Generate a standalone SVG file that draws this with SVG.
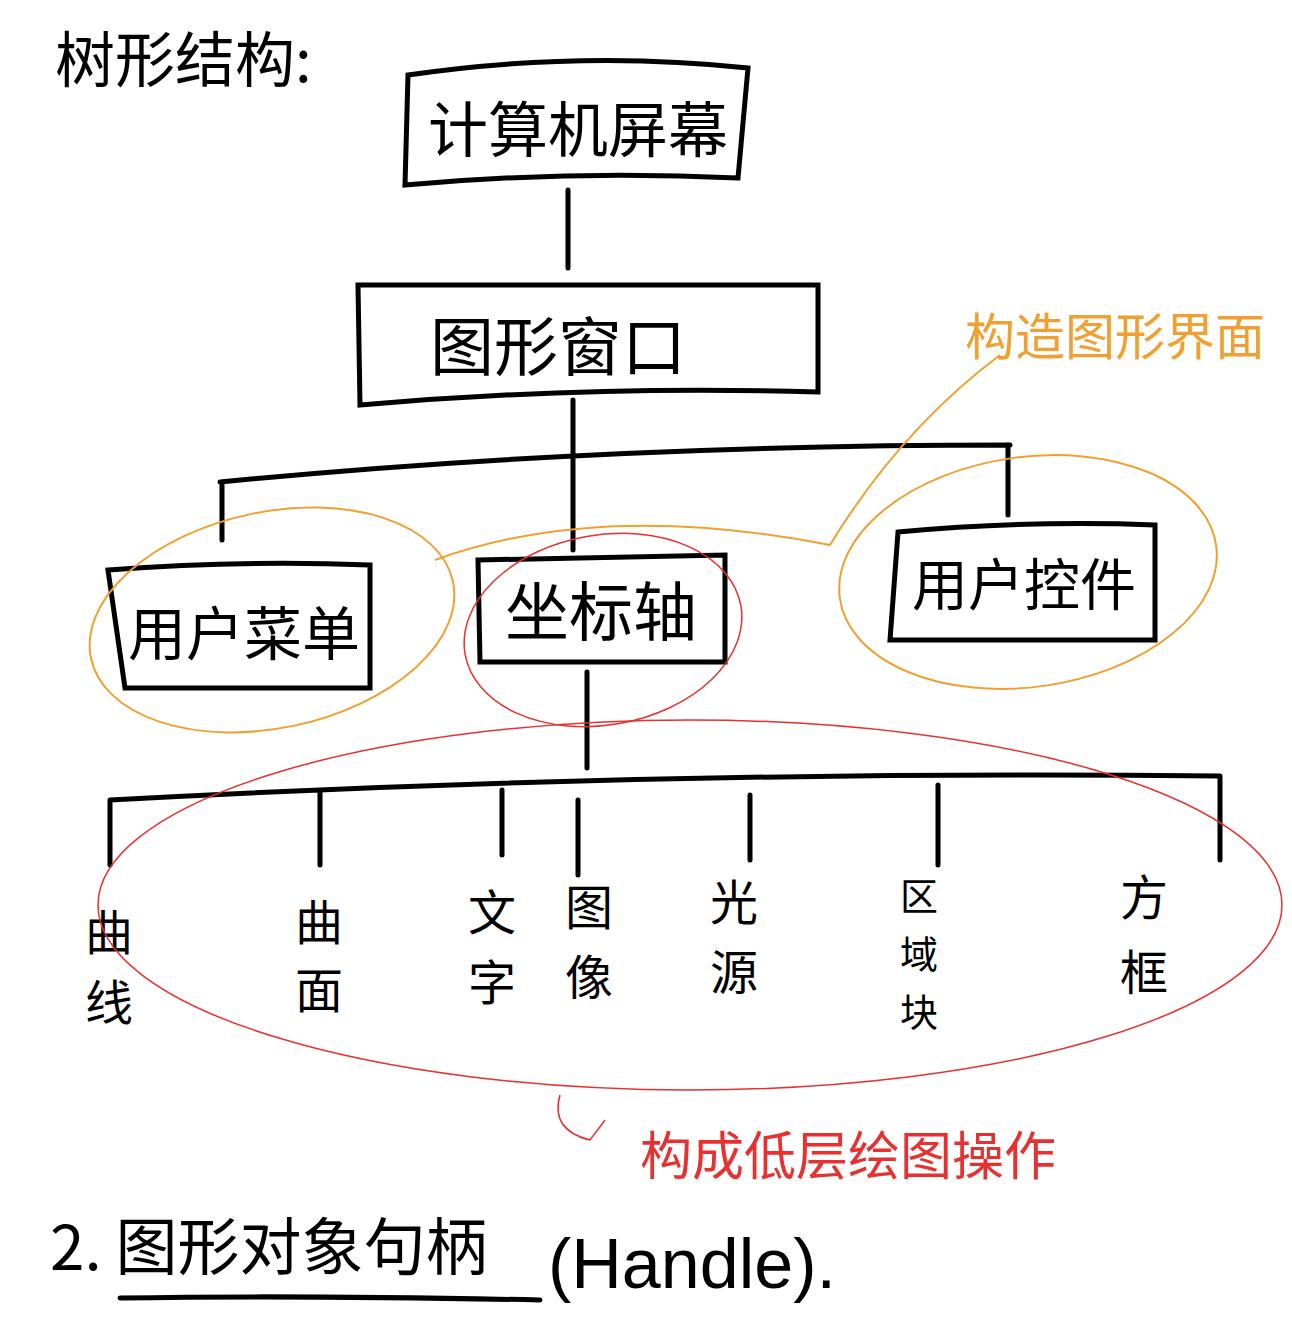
<svg xmlns="http://www.w3.org/2000/svg" width="1292" height="1344" viewBox="0 0 1292 1344">
<style>
.b{fill:none;stroke:#000;stroke-width:5;stroke-linecap:round}
.t{font-family:"Noto Sans CJK SC",sans-serif;fill:#000}
.o{fill:none;stroke:#f0a030;stroke-width:2}
.r{fill:none;stroke:#e83030;stroke-width:1.5}
</style>
<rect width="1292" height="1344" fill="#fff"/>
<text class="t" x="55" y="82" font-size="60">树形结构:</text>
<g id="connectors">
<path class="b" d="M568 190V268M573 400V550M220 482Q600 445 1010 445M222 482V540M1008 445V515M587 672V768M110 800Q660 770 1220 776M110 800V865M1220 776V860M320 790V865M502 790V855M578 800V875M750 795V860M938 785V865"/>
</g>
<g id="n1"><path class="b" d="M408 75Q580 50 748 68L738 178Q570 170 405 185Z"/><text class="t" x="428" y="152" font-size="60">计算机屏幕</text></g>
<g id="n2"><path class="b" d="M358 285H818V392Q590 385 360 405Z"/><text class="t" x="430" y="370" font-size="64">图形窗口</text></g>
<g id="n3"><path class="b" d="M108 570Q240 560 370 565V688H125Z"/><text class="t" x="128" y="655" font-size="58">用户菜单</text></g>
<g id="n4"><path class="b" d="M478 560L725 555V662H480Z"/><text class="t" x="505" y="635" font-size="64">坐标轴</text></g>
<g id="n5"><path class="b" d="M898 532Q1030 520 1155 525V640H890Z"/><text class="t" x="912" y="605" font-size="56">用户控件</text></g>
<g id="leaves" class="t" font-size="48">
<text x="85" y="950">曲</text><text x="85" y="1020">线</text>
<text x="295" y="940">曲</text><text x="295" y="1008">面</text>
<text x="468" y="930">文</text><text x="468" y="1000">字</text>
<text x="565" y="925">图</text><text x="565" y="995">像</text>
<text x="710" y="920">光</text><text x="710" y="990">源</text>
<text x="900" y="910" font-size="38">区</text><text x="900" y="968" font-size="38">域</text><text x="900" y="1026" font-size="38">块</text>
<text x="1120" y="915">方</text><text x="1120" y="990">框</text>
</g>
<g id="annotations">
<ellipse class="o" cx="272" cy="620" rx="185" ry="108" transform="rotate(-12 272 620)"/>
<ellipse class="o" cx="1028" cy="572" rx="190" ry="115" transform="rotate(-8 1028 572)"/>
<path class="o" d="M435 560Q600 500 830 545Q900 430 1000 355"/>
<text x="965" y="355" font-family="Noto Sans CJK SC,sans-serif" font-size="50" fill="#f0a030">构造图形界面</text>
<ellipse class="r" cx="603" cy="630" rx="140" ry="95" transform="rotate(-10 603 630)"/>
<ellipse class="r" cx="690" cy="905" rx="592" ry="185"/>
<path class="r" d="M560 1095Q550 1130 590 1140L605 1120"/>
<text x="640" y="1175" font-family="Noto Sans CJK SC,sans-serif" font-size="52" fill="#e83030">构成低层绘图操作</text>
</g>
<text class="t" x="50" y="1270" font-size="62">2. 图形对象句柄</text>
<text x="548" y="1288" font-family="Liberation Sans,sans-serif" font-size="70" fill="#000">(Handle).</text>
<path class="b" d="M120 1298Q300 1295 540 1300"/>
</svg>
